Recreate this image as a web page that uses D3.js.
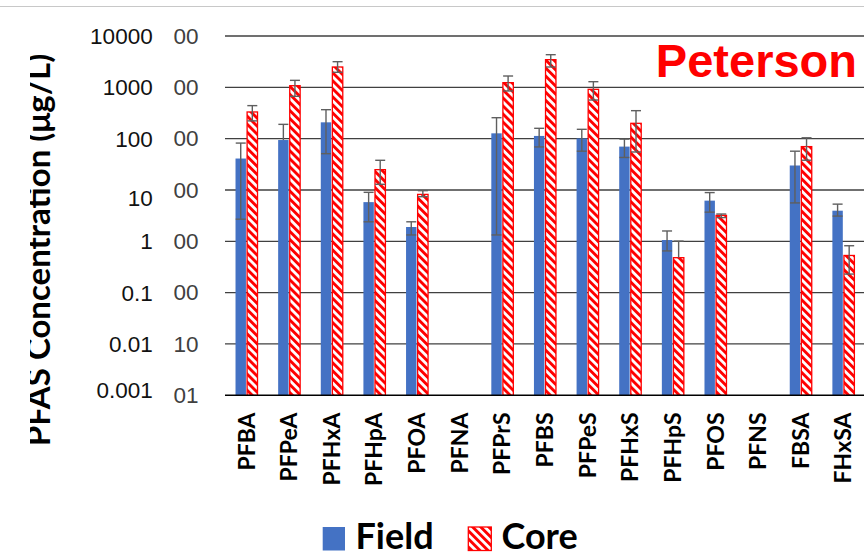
<!DOCTYPE html>
<html>
<head>
<meta charset="utf-8">
<script src="https://cdn.jsdelivr.net/npm/d3@7"></script>
<style>
  html, body { margin: 0; padding: 0; background: #ffffff; }
  svg { display: block; }
</style>
</head>
<body>
<svg id="chart" width="864" height="553"></svg>
<script>
// PFAS concentrations (µg/L), field samples vs. core samples, log scale
const categories = ["PFBA", "PFPeA", "PFHxA", "PFHpA", "PFOA", "PFNA", "PFPrS", "PFBS",
                    "PFPeS", "PFHxS", "PFHpS", "PFOS", "PFNS", "FBSA", "FHxSA"];
const seriesNames = ["Field", "Core"];

const fieldValues = [41, 94, 208, 5.8, 1.9, null, 127, 113, 101, 70, 1.06, 6.2, null, 30, 3.95];
const fieldLow    = [2.7, null, 51, 2.4, 1.33, null, 1.33, 69, 57, 43, 0.65, 3.7, null, 5.6, 3.1];
const fieldHigh   = [82, 190, 367, 9.0, 2.4, null, 256, 159, 152, 98, 1.59, 8.9, null, 57, 5.3];

const coreValues  = [331, 1076, 2490, 24.9, 8.2, null, 1233, 3460, 914, 199, 0.48, 3.2, null, 70, 0.53];
const coreLow     = [222, 668, 1960, 12.9, 7.4, null, 849, 2490, 566, 55, null, 2.9, null, 38, 0.23];
const coreHigh    = [440, 1368, 3160, 37.9, 9.7, null, 1662, 4325, 1288, 351, 1.01, 3.4, null, 104, 0.82];

const tickValues  = [10000, 1000, 100, 10, 1, 0.1, 0.01, 0.001];
const tickLabels  = ["10000", "1000", "100", "10", "1", "0.1", "0.01", "0.001"];

const siteName = "Peterson";
const yTitle = "PFAS Concentration (\u03BCg/L)";

// ---- layout ----
const svg = d3.select("#chart");
const plot = { left: 225, right: 864.5, top: 36, bottom: 395.3 };
const labelFont = "Lato, 'Open Sans', sans-serif";
const numFont = "'Liberation Sans', Arial, sans-serif";
const FIELD_COLOR = "#4472C4";
const CORE_COLOR = "#FF0000";
const ERR_COLOR = "#5f5f5f";
const GRID_COLOR = "#404040";

const x = d3.scaleBand().domain(categories).range([plot.left, plot.right]).padding(0);
const xs = d3.scaleBand().domain(seriesNames).range([-10.8, 11.2]).paddingInner(0.1);
const y = d3.scaleLog().domain([0.001, 10000]).range([plot.bottom, plot.top]);
const center = c => x(c) + x.bandwidth() / 2;

// hatch pattern for core bars
const defs = svg.append("defs");
const pat = defs.append("pattern")
  .attr("id", "coreHatch")
  .attr("patternUnits", "userSpaceOnUse")
  .attr("width", 5.7).attr("height", 5.7)
  .attr("patternTransform", "rotate(-45)");
pat.append("rect").attr("width", 5.7).attr("height", 5.7).attr("fill", "#ffffff");
pat.append("rect").attr("width", 2.9).attr("height", 5.7).attr("fill", CORE_COLOR);

defs.append("clipPath").attr("id", "titleClip")
  .append("rect").attr("x", 30).attr("y", 0).attr("width", 834).attr("height", 553);

// thin frame line along the top
svg.append("line")
  .attr("x1", 0).attr("x2", 864).attr("y1", 6.5).attr("y2", 6.5)
  .attr("stroke", "#c8c8c8").attr("stroke-width", 1);

// gridlines
svg.append("g").selectAll("line")
  .data(tickValues.filter(v => v > 0.001))
  .join("line")
  .attr("x1", plot.left).attr("x2", plot.right)
  .attr("y1", d => y(d)).attr("y2", d => y(d))
  .attr("stroke", GRID_COLOR).attr("stroke-width", 1.3);

// axis tick labels: three-decimal values, of which only the last two digits show
const fmt3 = d3.format(".3f");
const axisG = svg.append("g")
  .attr("transform", "translate(198.5,0)")
  .call(d3.axisLeft(y).tickValues(tickValues)
    .tickFormat(d => fmt3(d).slice(-2)).tickSize(0).tickPadding(0));
axisG.select(".domain").remove();
axisG.selectAll("text")
  .attr("font-family", numFont).attr("font-size", 22.5).attr("fill", "#404040");

// overlay tick labels
const overlayNudge = { "10": 8, "0.001": -5 };
svg.append("g").selectAll("text")
  .data(tickValues)
  .join("text")
  .attr("x", 152.7)
  .attr("y", (d, i) => y(d) + (overlayNudge[tickLabels[i]] || 0))
  .attr("dy", "0.36em")
  .attr("text-anchor", "end")
  .attr("font-family", numFont).attr("font-size", 22.5).attr("fill", "#111111")
  .text((d, i) => tickLabels[i]);

// bars
const barData = vals => categories.map((c, i) => ({ c, v: vals[i] })).filter(d => d.v != null);

svg.append("g").selectAll("rect")
  .data(barData(fieldValues))
  .join("rect")
  .attr("x", d => center(d.c) + xs("Field"))
  .attr("width", xs.bandwidth())
  .attr("y", d => y(d.v))
  .attr("height", d => y(0.001) - y(d.v))
  .attr("fill", FIELD_COLOR);

svg.append("g").selectAll("rect")
  .data(barData(coreValues))
  .join("rect")
  .attr("x", d => center(d.c) + xs("Core"))
  .attr("width", xs.bandwidth())
  .attr("y", d => y(d.v))
  .attr("height", d => y(0.001) - y(d.v))
  .attr("fill", "url(#coreHatch)")
  .attr("stroke", CORE_COLOR).attr("stroke-width", 1.3);

// error bars
function errData(vals, lo, hi, key) {
  return categories.map((c, i) => ({ c, v: vals[i], lo: lo[i], hi: hi[i], key }))
    .filter(d => d.v != null);
}
const errs = errData(fieldValues, fieldLow, fieldHigh, "Field")
  .concat(errData(coreValues, coreLow, coreHigh, "Core"));
const errG = svg.append("g").attr("stroke", ERR_COLOR).attr("stroke-width", 1.4);
const capHalf = 5;
errs.forEach(d => {
  const cx = center(d.c) + xs(d.key) + xs.bandwidth() / 2;
  const top = d.hi != null ? d.hi : d.v;
  const bot = d.lo != null ? d.lo : d.v;
  errG.append("line").attr("x1", cx).attr("x2", cx).attr("y1", y(top)).attr("y2", y(bot));
  if (d.hi != null) errG.append("line").attr("x1", cx - capHalf).attr("x2", cx + capHalf)
    .attr("y1", y(d.hi)).attr("y2", y(d.hi));
  if (d.lo != null) errG.append("line").attr("x1", cx - capHalf).attr("x2", cx + capHalf)
    .attr("y1", y(d.lo)).attr("y2", y(d.lo));
});

// baseline
svg.append("line")
  .attr("x1", plot.left).attr("x2", plot.right)
  .attr("y1", plot.bottom).attr("y2", plot.bottom)
  .attr("stroke", "#000000").attr("stroke-width", 1.5);

// category labels
svg.append("g").selectAll("text")
  .data(categories)
  .join("text")
  .attr("transform", c => `translate(${center(c)},412.5) rotate(-90)`)
  .attr("dy", "0.36em")
  .attr("text-anchor", "end")
  .attr("font-family", labelFont).attr("font-weight", 700).attr("font-size", 23)
  .attr("fill", "#000000")
  .text(c => c);

// y title (left edge trimmed)
svg.append("g")
  .attr("clip-path", "url(#titleClip)")
  .append("text")
  .attr("transform", "translate(49.5,250) rotate(-90)")
  .attr("text-anchor", "middle")
  .attr("font-family", labelFont).attr("font-weight", 700).attr("font-size", 33)
  .attr("fill", "#000000")
  .text(yTitle);

// site name
svg.append("text")
  .attr("x", 857).attr("y", 77.3)
  .attr("text-anchor", "end")
  .attr("font-family", numFont).attr("font-weight", 700).attr("font-size", 47)
  .attr("fill", CORE_COLOR)
  .text(siteName);

// legend
const legend = [
  { name: "Field", sx: 322.7, tx: 355.5 },
  { name: "Core", sx: 468.3, tx: 501.5 }
];
const lg = svg.append("g");
legend.forEach(l => {
  lg.append("rect")
    .attr("x", l.sx).attr("y", 527).attr("width", l.name === "Field" ? 22.3 : 23)
    .attr("height", 23.5)
    .attr("fill", l.name === "Field" ? FIELD_COLOR : "url(#coreHatch)")
    .attr("stroke", l.name === "Field" ? "none" : CORE_COLOR)
    .attr("stroke-width", 1.3);
  lg.append("text")
    .attr("x", l.tx).attr("y", 548.5)
    .attr("font-family", labelFont).attr("font-weight", 700).attr("font-size", 36)
    .attr("fill", "#000000")
    .text(l.name);
});
</script>
</body>
</html>
